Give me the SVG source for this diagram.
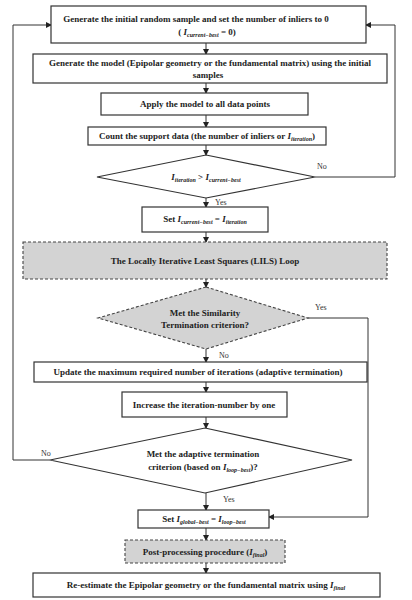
<svg xmlns="http://www.w3.org/2000/svg" width="412" height="600" viewBox="0 0 412 600">
<defs>
<marker id="ah" markerWidth="6" markerHeight="6" refX="5" refY="3" orient="auto" markerUnits="userSpaceOnUse">
<path d="M0,0 L6,3 L0,6 Z" fill="#222"/>
</marker>
<style>
.box{fill:#fff;stroke:#333;stroke-width:1.2}
.dash{fill:#d3d3d3;stroke:#444;stroke-width:1.1;stroke-dasharray:3,2}
.t{font-family:"Liberation Serif",serif;font-weight:bold;font-size:9px;fill:#222;text-anchor:middle}
.lbl{font-family:"Liberation Serif",serif;font-size:8px;fill:#333}
.sub{font-size:6px;font-style:italic}
.it{font-style:italic}
.c{fill:none;stroke:#333;stroke-width:1}
</style>
</defs>
<rect width="412" height="600" fill="#fff"/>
<g id="connectors">
<line class="c" x1="206" y1="43" x2="206" y2="54" marker-end="url(#ah)"/>
<line class="c" x1="206" y1="83" x2="206" y2="93" marker-end="url(#ah)"/>
<line class="c" x1="206" y1="115" x2="206" y2="127" marker-end="url(#ah)"/>
<line class="c" x1="206" y1="145" x2="206" y2="155" marker-end="url(#ah)"/>
<line class="c" x1="206" y1="198" x2="206" y2="207" marker-end="url(#ah)"/>
<polyline class="c" points="315,177 395,177 395,25 366,25" marker-end="url(#ah)"/>
<line class="c" x1="206" y1="232" x2="206" y2="242" marker-end="url(#ah)"/>
<line class="c" x1="206" y1="279" x2="206" y2="287" marker-end="url(#ah)"/>
<polyline class="c" points="308,318 368,318 368,517 269,517" marker-end="url(#ah)"/>
<line class="c" x1="206" y1="349" x2="206" y2="362" marker-end="url(#ah)"/>
<line class="c" x1="206" y1="382" x2="206" y2="392" marker-end="url(#ah)"/>
<line class="c" x1="206" y1="417" x2="206" y2="428" marker-end="url(#ah)"/>
<polyline class="c" points="50,460 13,460 13,25 51,25" marker-end="url(#ah)"/>
<line class="c" x1="206" y1="493" x2="206" y2="510" marker-end="url(#ah)"/>
<line class="c" x1="206" y1="528" x2="206" y2="540" marker-end="url(#ah)"/>
<line class="c" x1="206" y1="563" x2="206" y2="573" marker-end="url(#ah)"/>
<text class="lbl" x="317" y="169">No</text>
<text class="lbl" x="215" y="205">Yes</text>
<text class="lbl" x="315" y="310">Yes</text>
<text class="lbl" x="219" y="358">No</text>
<text class="lbl" x="41" y="456">No</text>
<text class="lbl" x="223" y="502">Yes</text>
</g>
<g id="n1">
<rect class="box" x="51" y="6" width="315" height="37"/>
<text class="t" x="196" y="22">Generate the initial random sample and set the number of inliers to 0</text>
<text class="t" x="207" y="35">( <tspan class="it">I</tspan><tspan class="sub" dy="1.5">current−best</tspan><tspan dy="-1.5"> = 0)</tspan></text>
</g>
<g id="n2">
<rect class="box" x="33" y="54" width="354" height="29"/>
<text class="t" x="210" y="66">Generate the model (Epipolar geometry or the fundamental matrix) using the initial</text>
<text class="t" x="208" y="78">samples</text>
</g>
<g id="n3">
<rect class="box" x="101" y="93" width="207" height="22"/>
<text class="t" x="205" y="107">Apply the model to all data points</text>
</g>
<g id="n4">
<rect class="box" x="88" y="127" width="238" height="18"/>
<text class="t" x="207" y="139">Count the support data (the number of inliers or <tspan class="it">I</tspan><tspan class="sub" dy="1.5">iteration</tspan><tspan dy="-1.5">)</tspan></text>
</g>
<g id="n5">
<polygon class="box" points="206,155 315,177 206,198 97,177"/>
<text class="t" x="206" y="180"><tspan class="it">I</tspan><tspan class="sub" dy="1.5">iteration</tspan><tspan dy="-1.5"> &gt; </tspan><tspan class="it">I</tspan><tspan class="sub" dy="1.5">current−best</tspan></text>
</g>
<g id="n6">
<rect class="box" x="142" y="207" width="126" height="25"/>
<text class="t" x="205" y="222">Set <tspan class="it">I</tspan><tspan class="sub" dy="1.5">current−best</tspan><tspan dy="-1.5"> = </tspan><tspan class="it">I</tspan><tspan class="sub" dy="1.5">iteration</tspan></text>
</g>
<g id="n7">
<rect class="dash" x="23" y="242" width="364" height="37"/>
<text class="t" x="205" y="264">The Locally Iterative Least Squares  (LILS) Loop</text>
</g>
<g id="n8">
<polygon class="dash" points="206,287 308,318 206,349 98,318"/>
<text class="t" x="205" y="316">Met the Similarity</text>
<text class="t" x="205" y="328">Termination criterion?</text>
</g>
<g id="n9">
<rect class="box" x="34" y="362" width="333" height="20"/>
<text class="t" x="198" y="375">Update the maximum required number of iterations (adaptive termination)</text>
</g>
<g id="n10">
<rect class="box" x="122" y="392" width="165" height="25"/>
<text class="t" x="204" y="408">Increase the iteration-number by one</text>
</g>
<g id="n11">
<polygon class="box" points="205,428 352,460 205,493 50,460"/>
<text class="t" x="203" y="457">Met the adaptive termination</text>
<text class="t" x="203" y="470">criterion (based on <tspan class="it">I</tspan><tspan class="sub" dy="1.5">loop−best</tspan><tspan dy="-1.5">)?</tspan></text>
</g>
<g id="n12">
<rect class="box" x="138" y="510" width="131" height="18"/>
<text class="t" x="204" y="522">Set <tspan class="it">I</tspan><tspan class="sub" dy="1.5">global−best</tspan><tspan dy="-1.5"> = </tspan><tspan class="it">I</tspan><tspan class="sub" dy="1.5">loop−best</tspan></text>
</g>
<g id="n13">
<rect class="dash" x="125" y="540" width="160" height="23"/>
<text class="t" x="205" y="555">Post-processing procedure (<tspan class="it">I</tspan><tspan class="sub" dy="1.5">final</tspan><tspan dy="-1.5">)</tspan></text>
</g>
<g id="n14">
<rect class="box" x="33" y="573" width="347" height="24"/>
<text class="t" x="206" y="588">Re-estimate the Epipolar geometry or the fundamental matrix using <tspan class="it">I</tspan><tspan class="sub" dy="1.5">final</tspan></text>
</g>
</svg>
